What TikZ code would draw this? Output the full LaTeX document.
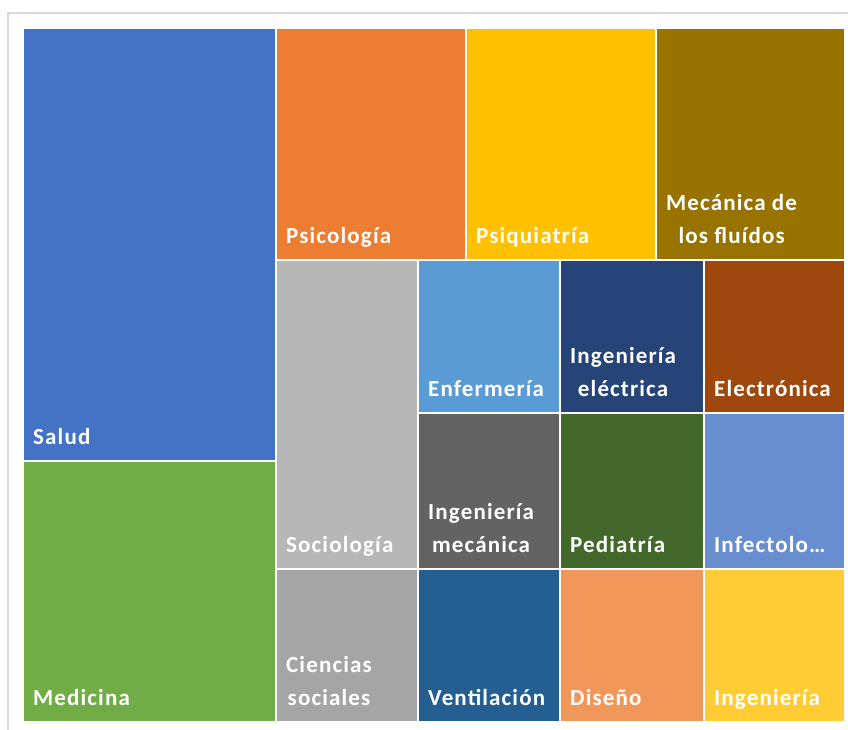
\documentclass[tikz,border=0pt]{standalone}
\usepackage{fontspec}
\newfontfamily\tileFont[LetterSpace=5]{Carlito}

\begin{document}
\begin{tikzpicture}[x=1pt,y=-1pt,
  tile/.style={draw=white,line width=1.5pt},
  tileLabel/.style={anchor=south west,text=white,align=center,
    inner xsep=10pt,inner ysep=16pt,text depth=0pt,
    font=\tileFont\bfseries\fontsize{23}{33}\selectfont}]
  \definecolor{kFrame}{RGB}{217,217,217}
  \definecolor{kSalud}{RGB}{68,114,196}
  \definecolor{kMedicina}{RGB}{112,173,71}
  \definecolor{kPsicologia}{RGB}{237,125,49}
  \definecolor{kPsiquiatria}{RGB}{255,192,0}
  \definecolor{kFluidos}{RGB}{153,115,0}
  \definecolor{kSociologia}{RGB}{183,183,183}
  \definecolor{kCiencias}{RGB}{165,165,165}
  \definecolor{kEnfermeria}{RGB}{91,155,213}
  \definecolor{kElectrica}{RGB}{38,68,120}
  \definecolor{kElectronica}{RGB}{158,72,14}
  \definecolor{kMecanica}{RGB}{99,99,99}
  \definecolor{kPediatria}{RGB}{67,104,43}
  \definecolor{kInfecto}{RGB}{105,142,208}
  \definecolor{kVentilacion}{RGB}{37,94,145}
  \definecolor{kDiseno}{RGB}{241,151,90}
  \definecolor{kIngenieria}{RGB}{255,205,51}

  \useasboundingbox (0,0) rectangle (848,729);
  \draw[kFrame,line width=1.5pt] (8,740) -- (8,13) -- (860,13);

  \foreach \n/\c/\xa/\ya/\xb/\yb/\t in {
      salud/kSalud/23/28/276/461/{Salud},
      medicina/kMedicina/23/461/276/722/{Medicina},
      psicologia/kPsicologia/276/28/466/260/{Psicología},
      psiquiatria/kPsiquiatria/466/28/656/260/{Psiquiatría},
      fluidos/kFluidos/656/28/845/260/{Mecánica de\\los fluídos},
      sociologia/kSociologia/276/260/418/569/{Sociología},
      ciencias/kCiencias/276/569/418/722/{Ciencias\\sociales},
      enfermeria/kEnfermeria/418/260/560/413/{Enfermería},
      electrica/kElectrica/560/260/704/413/{Ingeniería\\eléctrica},
      electronica/kElectronica/704/260/845/413/{Electrónica},
      mecanica/kMecanica/418/413/560/569/{Ingeniería\\mecánica},
      pediatria/kPediatria/560/413/704/569/{Pediatría},
      infecto/kInfecto/704/413/845/569/{Infectolo…},
      ventilacion/kVentilacion/418/569/560/722/{Ventilación},
      diseno/kDiseno/560/569/704/722/{Diseño},
      ingenieria/kIngenieria/704/569/845/722/{Ingeniería}
    }
  {
    \draw[tile,fill=\c] (\xa,\ya) rectangle (\xb,\yb);
    \node[tileLabel] (\n) at (\xa,\yb) {\t};
  }
\end{tikzpicture}
\end{document}
